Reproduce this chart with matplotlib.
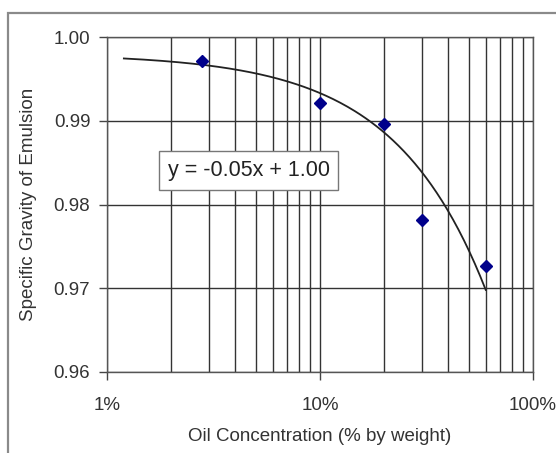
import matplotlib
matplotlib.use("Agg")
import matplotlib.pyplot as plt
import numpy as np
from matplotlib.ticker import FixedLocator, FuncFormatter, NullFormatter
from matplotlib.patches import Rectangle

plt.rcParams['font.family'] = ['Liberation Sans', 'DejaVu Sans']

# data
oil_pct = [2.8, 10, 20, 30, 60]
specific_gravity = [0.9971, 0.9921, 0.9896, 0.9782, 0.9726]
trend_x = [1.2, 60]
trend_slope = -0.047
trend_intercept = 0.998
equation_label = "y = -0.05x + 1.00"
y_ticks = [0.96, 0.97, 0.98, 0.99, 1.00]
x_major = [1, 10, 100]

W, H = 556, 453
fig = plt.figure(figsize=(W/100, H/100), dpi=100)
fig.patches.append(Rectangle((8/W, -0.1), 1.2, 1 - 13/H + 0.1, transform=fig.transFigure,
                             fill=False, edgecolor='#8a8a8a', linewidth=1.6))
ax = fig.add_axes([107/W, 1-372/H, (533-107)/W, (372-37)/H])
ax.set_xscale('log')
ax.set_xlim(1, 100)
ax.set_ylim(0.96, 1.00)

xs = np.logspace(np.log10(trend_x[0]), np.log10(trend_x[1]), 200)
ax.plot(xs, trend_intercept + trend_slope * xs / 100, color='#222222', lw=1.3, zorder=3)
ax.plot(oil_pct, specific_gravity, linestyle='none', marker='D', markersize=6.5,
        color='#00008b', zorder=4)

minor = [m * 10**k for k in range(0, 2) for m in range(2, 10)]
ax.xaxis.set_major_locator(FixedLocator(x_major))
ax.xaxis.set_minor_locator(FixedLocator(minor))
ax.xaxis.set_minor_formatter(NullFormatter())
ax.xaxis.set_major_formatter(FuncFormatter(lambda v, p: f"{v:g}%"))
ax.yaxis.set_major_locator(FixedLocator(y_ticks))
ax.yaxis.set_major_formatter(FuncFormatter(lambda v, p: f"{v:.2f}"))

ax.grid(True, which='major', color='#333333', lw=1.0)
ax.grid(True, which='minor', axis='x', color='#333333', lw=1.0)
ax.set_axisbelow(True)
for s in ax.spines.values():
    s.set_color('#555555')
    s.set_linewidth(1.0)
ax.tick_params(axis='both', which='major', length=6, width=1.0, color='#444444',
               labelsize=13.5, labelcolor='#333333', pad=6)
ax.tick_params(axis='x', which='minor', length=0)
ax.tick_params(axis='x', which='major', pad=12)

ax.set_xlabel("Oil Concentration (% by weight)", fontsize=13.5, color='#333333', labelpad=10)
ax.set_ylabel("Specific Gravity of Emulsion", fontsize=13.5, color='#333333', labelpad=12)

ax.text(0.333, 0.6015, equation_label, transform=ax.transAxes, ha='center', va='center',
        fontsize=15.5, color='#222222', zorder=5,
        bbox=dict(boxstyle='square,pad=0.4', facecolor='white', edgecolor='#777777', lw=1.0))

fig.savefig("out.png", dpi=100)
